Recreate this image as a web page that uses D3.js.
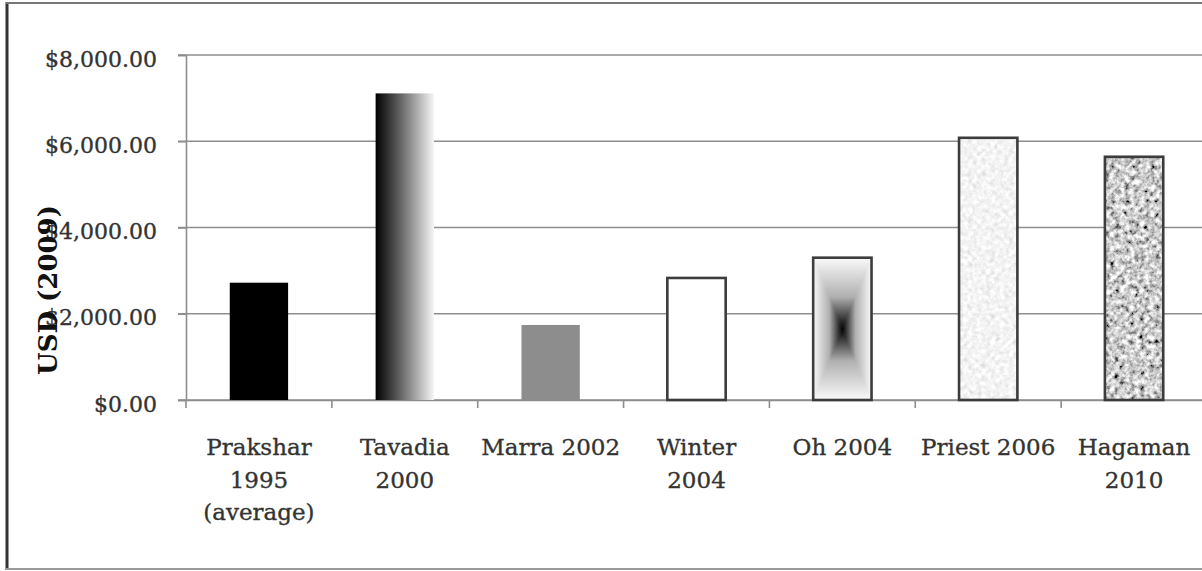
<!DOCTYPE html>
<html>
<head>
<meta charset="utf-8">
<script src="https://cdn.jsdelivr.net/npm/d3@7"></script>
<style>
  body { margin: 0; background: #fff; }
  svg { display: block; }
</style>
</head>
<body>
<div id="chart"></div>
<script>
// chart data
var categories = ["Prakshar 1995 (average)", "Tavadia 2000", "Marra 2002", "Winter 2004", "Oh 2004", "Priest 2006", "Hagaman 2010"];
var labelLines = [["Prakshar", "1995", "(average)"], ["Tavadia", "2000"], ["Marra 2002"], ["Winter", "2004"], ["Oh 2004"], ["Priest 2006"], ["Hagaman", "2010"]];
var costs = [2720, 7110, 1740, 2830, 3300, 6080, 5640];
var yTicks = [0, 2000, 4000, 6000, 8000];
var yTitle = "USD (2009)";

var W = 1202, H = 571;
var margin = { top: 55, left: 186, bottom: 171 },
    plotRight = 1207,
    height = H - margin.top - margin.bottom;

var svg = d3.select('#chart').append('svg')
  .attr('width', W)
  .attr('height', H);

var defs = svg.append('defs');

// horizontal black -> white gradient (Tavadia)
var g1 = defs.append('linearGradient').attr('id', 'gradH')
  .attr('x1', 0).attr('x2', 1).attr('y1', 0).attr('y2', 0);
g1.append('stop').attr('offset', 0).attr('stop-color', '#000');
g1.append('stop').attr('offset', 0.45).attr('stop-color', '#6a6a6a');
g1.append('stop').attr('offset', 1).attr('stop-color', '#f6f6f6');

// edge -> centre gradients for the "from centre" bar (Oh)
function edgeGrad(id, x1, y1, x2, y2) {
  var g = defs.append('linearGradient').attr('id', id)
    .attr('x1', x1).attr('y1', y1).attr('x2', x2).attr('y2', y2);
  g.append('stop').attr('offset', 0).attr('stop-color', '#fafafa');
  g.append('stop').attr('offset', 0.55).attr('stop-color', '#b0b0b0');
  g.append('stop').attr('offset', 1).attr('stop-color', '#000');
}
edgeGrad('gTop', 0, 0, 0, 1);
edgeGrad('gBot', 0, 1, 0, 0);
edgeGrad('gLeft', 0, 0, 1, 0);
edgeGrad('gRight', 1, 0, 0, 0);

// speckled textures
function noiseFilter(id, freq, slope, offset) {
  var f = defs.append('filter').attr('id', id)
    .attr('x', 0).attr('y', 0).attr('width', 1).attr('height', 1);
  f.append('feTurbulence').attr('type', 'fractalNoise')
    .attr('baseFrequency', freq).attr('numOctaves', 3).attr('seed', 7)
    .attr('result', 'noise');
  var s = slope / 3;
  f.append('feColorMatrix').attr('in', 'noise').attr('type', 'matrix')
    .attr('values', [s, s, s, 0, offset, s, s, s, 0, offset, s, s, s, 0, offset, 0, 0, 0, 0, 1].join(' '))
    .attr('result', 'grey');
  f.append('feComposite').attr('in', 'grey').attr('in2', 'SourceGraphic').attr('operator', 'in');
}
noiseFilter('texLight', 0.22, 0.8, 0.5);
noiseFilter('texDark', 0.2, 3.2, -1.0);

// frame
svg.append('line').attr('x1', 7).attr('x2', 7).attr('y1', 2).attr('y2', 570)
  .attr('stroke', '#333').attr('stroke-width', 3);
svg.append('line').attr('x1', 6).attr('x2', W).attr('y1', 3).attr('y2', 3)
  .attr('stroke', '#777').attr('stroke-width', 2);
svg.append('line').attr('x1', 6).attr('x2', W).attr('y1', 569).attr('y2', 569)
  .attr('stroke', '#999').attr('stroke-width', 2);

var x = d3.scaleBand()
  .domain(categories)
  .range([margin.left, plotRight])
  .paddingInner(0)
  .paddingOuter(0);

var y = d3.scaleLinear()
  .domain([0, 8000])
  .range([margin.top + height, margin.top]);

// gridlines
svg.append('g').selectAll('line').data(yTicks)
  .enter().append('line')
    .attr('x1', margin.left - 8)
    .attr('x2', plotRight)
    .attr('y1', function(d) { return y(d); })
    .attr('y2', function(d) { return y(d); })
    .attr('stroke', '#8e8e8e')
    .attr('stroke-width', 1.6);

// y axis
var yAxis = d3.axisLeft(y)
  .tickValues(yTicks)
  .tickSize(8)
  .tickPadding(21)
  .tickFormat(function(d) { return '$' + d3.format(',.2f')(d); });

var yGuide = svg.append('g')
  .attr('transform', 'translate(' + margin.left + ',0)')
  .call(yAxis);
yGuide.select('.domain').attr('stroke', '#8e8e8e').attr('stroke-width', 1.6);
yGuide.selectAll('.tick line').attr('stroke', '#8e8e8e').attr('stroke-width', 1.6);
yGuide.selectAll('text')
  .attr('dy', '0.5em')
  .style('font-family', '"DejaVu Serif", serif')
  .style('font-size', '22px')
  .attr('fill', '#333')
  .attr('stroke', '#333')
  .attr('stroke-width', 0.35);

// x axis: ticks at band boundaries
var xEdges = categories.map(function(c) { return x(c); }).concat([plotRight]);
svg.append('g').selectAll('line').data(xEdges)
  .enter().append('line')
    .attr('x1', function(d) { return d; })
    .attr('x2', function(d) { return d; })
    .attr('y1', y(0))
    .attr('y2', y(0) + 8)
    .attr('stroke', '#8e8e8e')
    .attr('stroke-width', 1.6);

var xAxis = d3.axisBottom(x).tickSize(0).tickPadding(0);
var xGuide = svg.append('g')
  .attr('transform', 'translate(0,' + y(0) + ')')
  .call(xAxis);
xGuide.select('.domain').attr('stroke', '#8e8e8e').attr('stroke-width', 1.6);
xGuide.selectAll('.tick text').each(function(d, i) {
  var t = d3.select(this).text('').attr('y', 0).attr('dy', null)
    .attr('fill', '#333')
    .attr('stroke', '#333')
    .attr('stroke-width', 0.35)
    .style('font-family', '"DejaVu Serif", serif')
    .style('font-size', '23px');
  labelLines[i].forEach(function(line, k) {
    t.append('tspan').attr('x', 0).attr('y', 55 + k * 32.5).text(line);
  });
});

// bars
var barW = x.bandwidth() * 0.4;
function bx(c) { return x(c) + (x.bandwidth() - barW) / 2; }

var fills = ['#000', 'url(#gradH)', '#8d8d8d', '#fff', 'none', '#fff', '#fff'];
var strokes = [null, null, null, '#3c3c3c', '#3c3c3c', '#3c3c3c', '#3c3c3c'];

var bars = svg.append('g');
categories.forEach(function(c, i) {
  var x0 = bx(c), y0 = y(costs[i]), y1 = y(0);
  if (i === 4) {
    var cx = x0 + barW / 2, cy = (y0 + y1) / 2, x1 = x0 + barW;
    var tri = [
      ['gTop', [[x0, y0], [x1, y0], [cx, cy]]],
      ['gBot', [[x0, y1], [x1, y1], [cx, cy]]],
      ['gLeft', [[x0, y0], [x0, y1], [cx, cy]]],
      ['gRight', [[x1, y0], [x1, y1], [cx, cy]]]
    ];
    tri.forEach(function(t) {
      bars.append('path')
        .attr('d', d3.line()(t[1]) + 'Z')
        .attr('fill', 'url(#' + t[0] + ')')
        .attr('stroke', 'url(#' + t[0] + ')')
        .attr('stroke-width', 0.6);
    });
  } else {
    var r = bars.append('rect')
      .attr('x', x0).attr('y', y0)
      .attr('width', barW).attr('height', y1 - y0)
      .attr('fill', fills[i]);
    if (i === 5) r.attr('filter', 'url(#texLight)');
    if (i === 6) r.attr('filter', 'url(#texDark)');
  }
  if (strokes[i]) {
    bars.append('rect')
      .attr('x', x0).attr('y', y0)
      .attr('width', barW).attr('height', y1 - y0)
      .attr('fill', 'none')
      .attr('stroke', strokes[i])
      .attr('stroke-width', 2.6);
  }
});

// y title
svg.append('text')
  .attr('transform', 'translate(48,290) rotate(-90)')
  .attr('text-anchor', 'middle')
  .attr('dy', '0.35em')
  .style('font-family', '"DejaVu Serif", serif')
  .style('font-weight', 'bold')
  .style('font-size', '26px')
  .attr('fill', '#111')
  .text(yTitle);
</script>
</body>
</html>
